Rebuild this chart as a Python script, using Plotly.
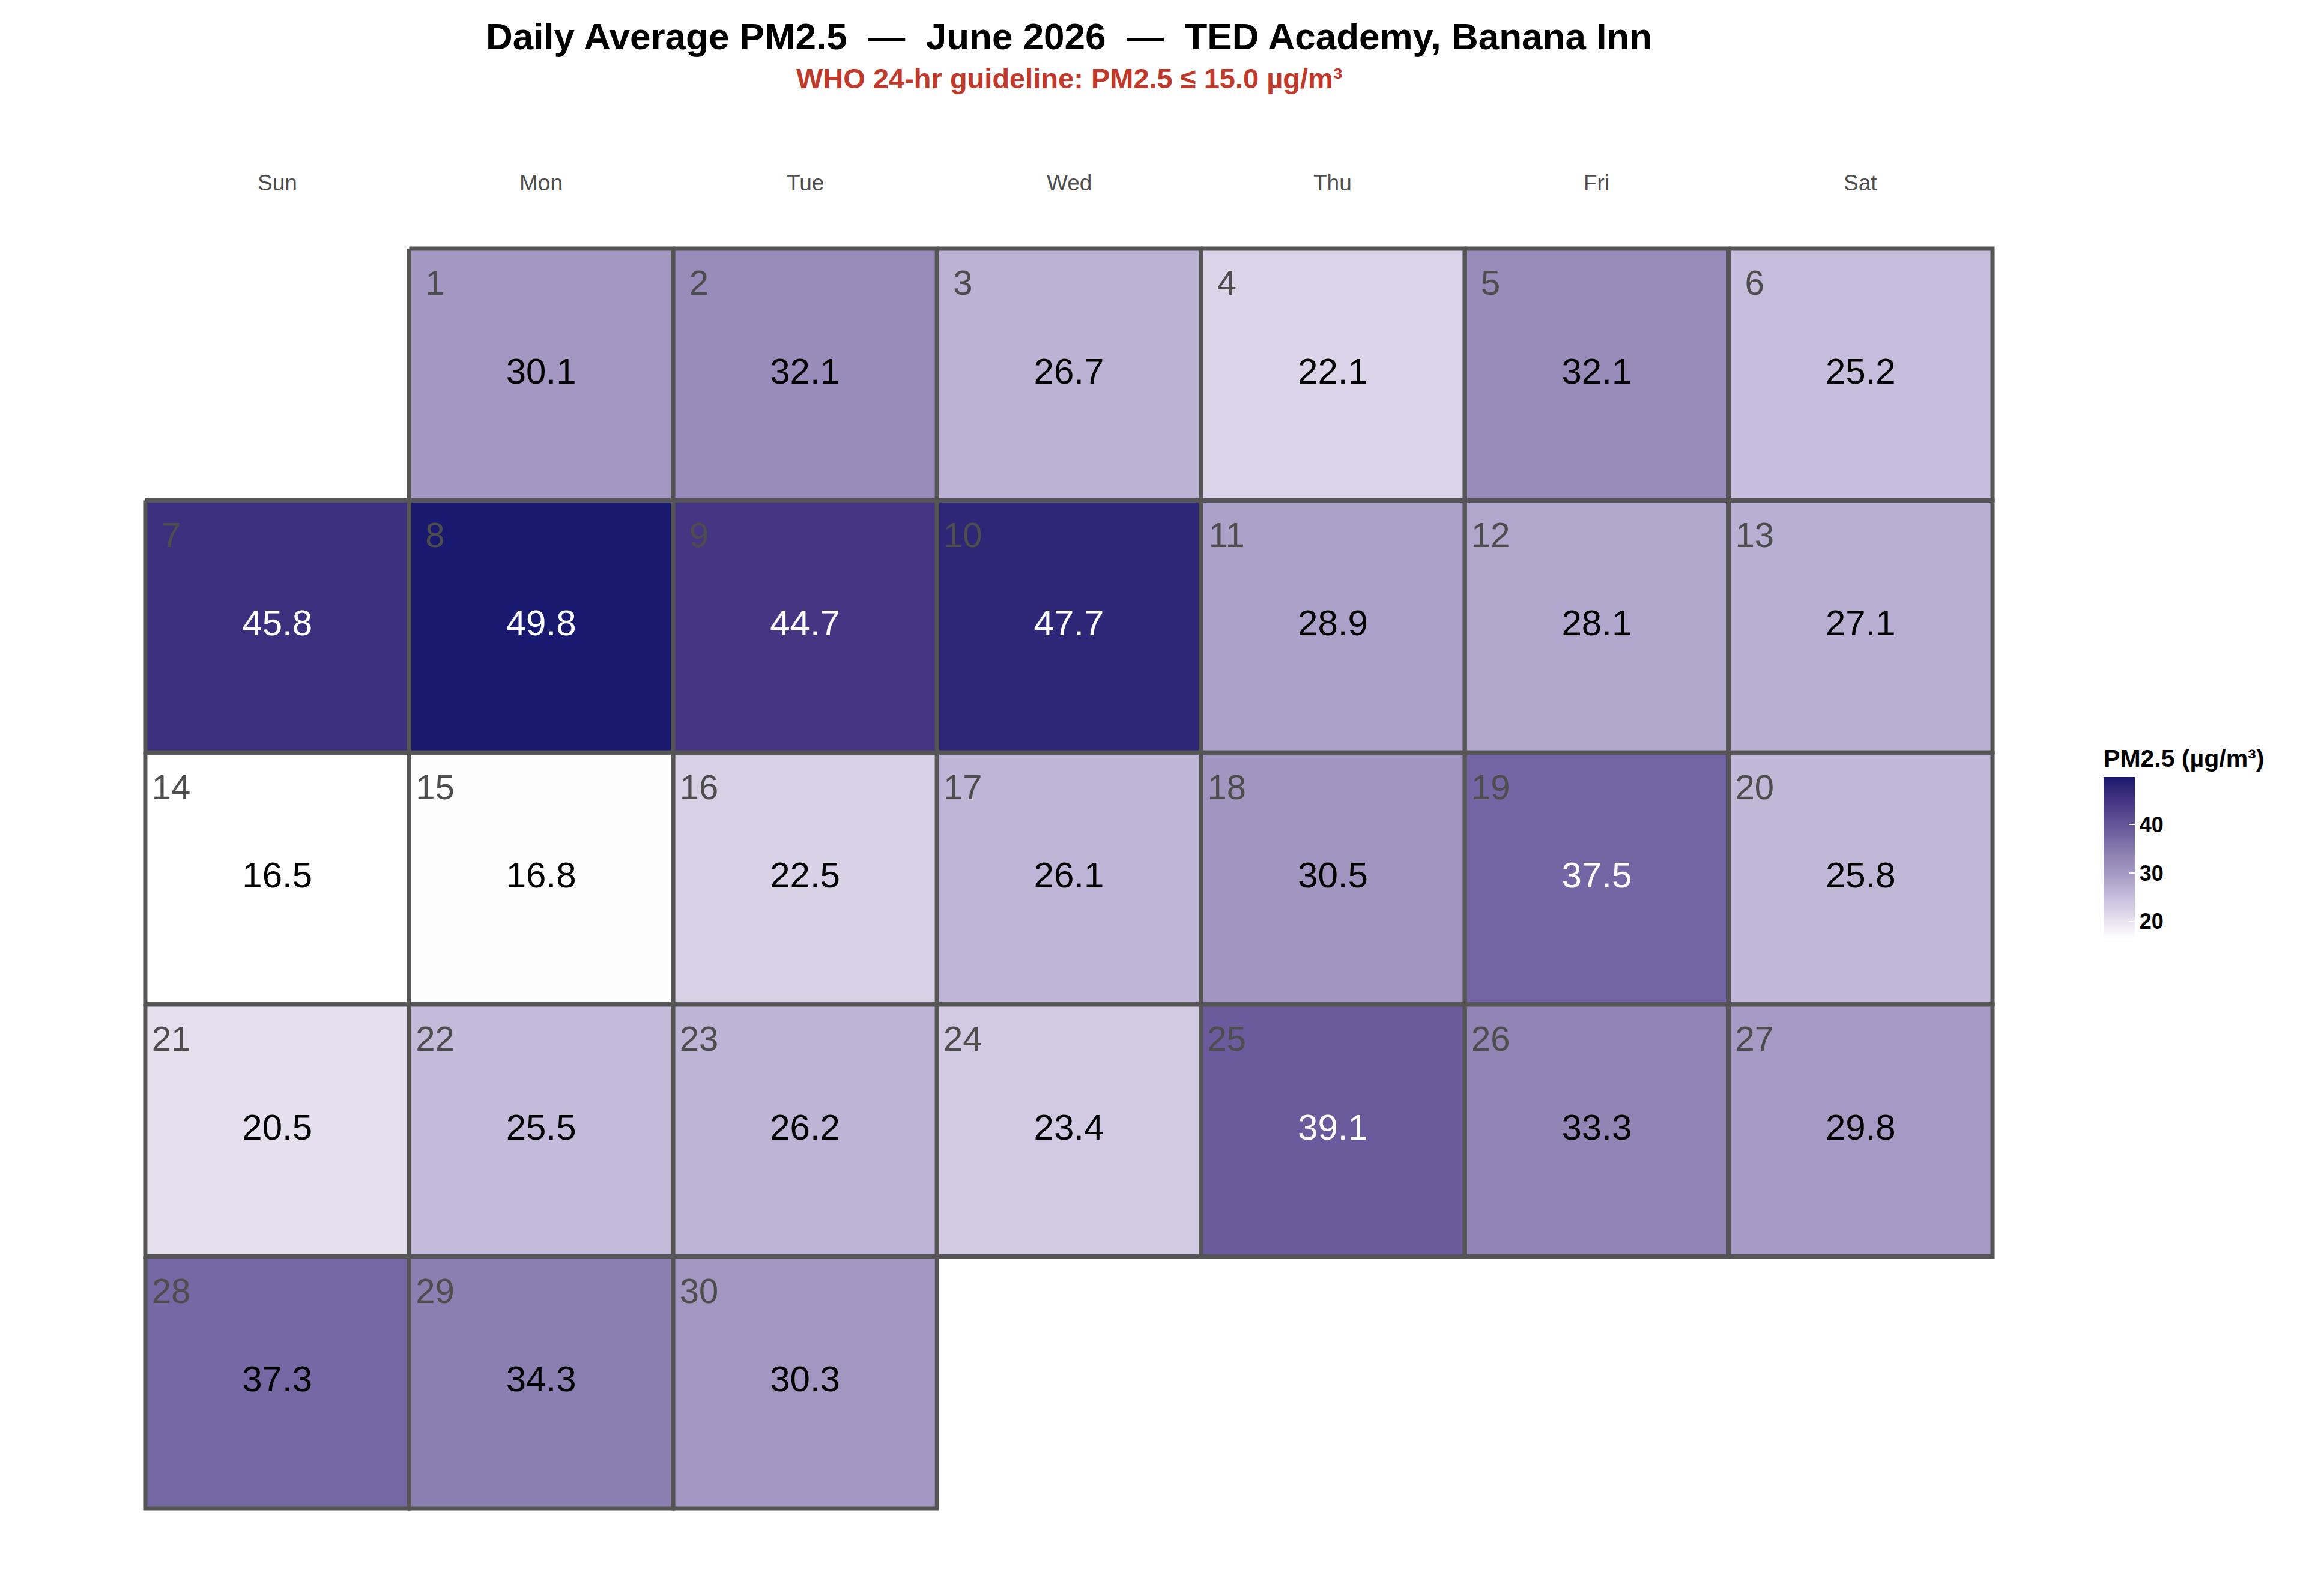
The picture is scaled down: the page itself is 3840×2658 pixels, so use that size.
import datetime
import plotly.graph_objects as go

# daily average PM2.5, June 2026
days = list(range(1, 31))
pm25 = [30.1, 32.1, 26.7, 22.1, 32.1, 25.2,
        45.8, 49.8, 44.7, 47.7, 28.9, 28.1, 27.1,
        16.5, 16.8, 22.5, 26.1, 30.5, 37.5, 25.8,
        20.5, 25.5, 26.2, 23.4, 39.1, 33.3, 29.8,
        37.3, 34.3, 30.3]
weekdays = ["Sun", "Mon", "Tue", "Wed", "Thu", "Fri", "Sat"]
cbar_ticks = [20, 30, 40]

first = datetime.date(2026, 6, 1)
offset = (first.weekday() + 1) % 7   # sunday-first week
cols = [(offset + d - 1) % 7 for d in days]
rows = [(offset + d - 1) // 7 for d in days]
n_rows = max(rows) + 1

z = [[None] * 7 for _ in range(n_rows)]
for v, c, r in zip(pm25, cols, rows):
    z[r][c] = v

# pixel layout
W, H = 3840, 2658
pad = 0.05
cell_w = (3310 - 234) / 7
cell_h = (2504 - 406) / n_rows
left = 234 - pad * cell_w
right = 3310 + pad * cell_w
top = 406 - pad * cell_h
bottom = 2504 + pad * cell_h
pw, ph = right - left, bottom - top

def px_x(x):
    return (x - left) / pw

def px_y(y):
    return (bottom - y) / ph

font = "Liberation Sans, Arial, sans-serif"

colorscale = [
    [0.0, "#ffffff"],
    [0.12, "#e4e0ee"],
    [0.261, "#c5bddb"],
    [0.408, "#a498c3"],
    [0.505, "#9285b5"],
    [0.628, "#7567a4"],
    [0.679, "#6b5b9c"],
    [0.847, "#443683"],
    [0.937, "#2e2676"],
    [1.0, "#191970"],
]

fig = go.Figure()

# bar itself spans 1292..1555 px, title sits on top inside len
fig.add_trace(go.Heatmap(
    z=z,
    x=list(range(7)),
    y=list(range(n_rows)),
    zmin=min(pm25), zmax=max(pm25),
    colorscale=colorscale,
    hoverinfo="skip",
    colorbar=dict(
        title=dict(text="PM2.5 (µg/m³)", side="top",
                   font=dict(size=41, color="#000000", family=font, weight="bold")),
        x=px_x(3495), xanchor="left", xpad=0,
        y=px_y(1555), yanchor="bottom", ypad=0,
        len=263 + 57, lenmode="pixels", thickness=52,
        outlinewidth=0,
        tickvals=cbar_ticks,
        ticks="inside", ticklen=10, tickwidth=2, tickcolor="white",
        tickfont=dict(size=36, color="#000000", family=font, weight="bold"),
    ),
))

# cell borders
bx, by = [], []
for c, r in zip(cols, rows):
    bx += [c - 0.5, c + 0.5, c + 0.5, c - 0.5, c - 0.5, None]
    by += [r - 0.5, r - 0.5, r + 0.5, r + 0.5, r - 0.5, None]
fig.add_trace(go.Scatter(x=bx, y=by, mode="lines",
                         line=dict(color="#555555", width=7),
                         hoverinfo="skip", showlegend=False))

# value labels
txt_col = ["white" if v > 37.4 else "black" for v in pm25]
fig.add_trace(go.Scatter(
    x=cols, y=rows, mode="text",
    text=[f"{v:.1f}" for v in pm25],
    textfont=dict(size=60, color=txt_col, family=font),
    textposition="middle center",
    hoverinfo="skip", showlegend=False, cliponaxis=False))

# day numbers
fig.add_trace(go.Scatter(
    x=[c - 0.5 + 0.098 for c in cols],
    y=[r - 0.5 + 0.15 for r in rows],
    mode="text",
    text=[str(d) for d in days],
    textfont=dict(size=58, color="#4d4d4d", family=font),
    textposition="middle center",
    hoverinfo="skip", showlegend=False, cliponaxis=False))

for i, name in enumerate(weekdays):
    fig.add_annotation(x=i, xref="x", y=px_y(297), yref="paper",
                       text=name, showarrow=False, yanchor="middle",
                       font=dict(size=37, color="#4d4d4d", family=font))

fig.add_annotation(x=0.5, xref="paper", y=px_y(123), yref="paper",
                   text="<b>WHO 24-hr guideline: PM2.5 ≤ 15.0 µg/m³</b>",
                   showarrow=False, yanchor="middle",
                   font=dict(size=47, color="#c0392b", family=font))

sep = "\u00a0 —\u00a0 "
fig.update_layout(
    width=W, height=H,
    margin=dict(l=left, r=W - right, t=top, b=H - bottom),
    paper_bgcolor="white", plot_bgcolor="white",
    title=dict(text="<b>Daily Average PM2.5" + sep + "June 2026" + sep
                    + "TED Academy, Banana Inn</b>",
               x=0.5, xref="paper", xanchor="center",
               y=1 - 52 / H, yref="container", yanchor="middle",
               font=dict(size=62, color="#000000", family=font)),
    xaxis=dict(range=[-0.5 - pad, 6.5 + pad], visible=False, fixedrange=True),
    yaxis=dict(range=[n_rows - 0.5 + pad, -0.5 - pad], visible=False, fixedrange=True),
    showlegend=False,
)

fig.write_html("out.html")
